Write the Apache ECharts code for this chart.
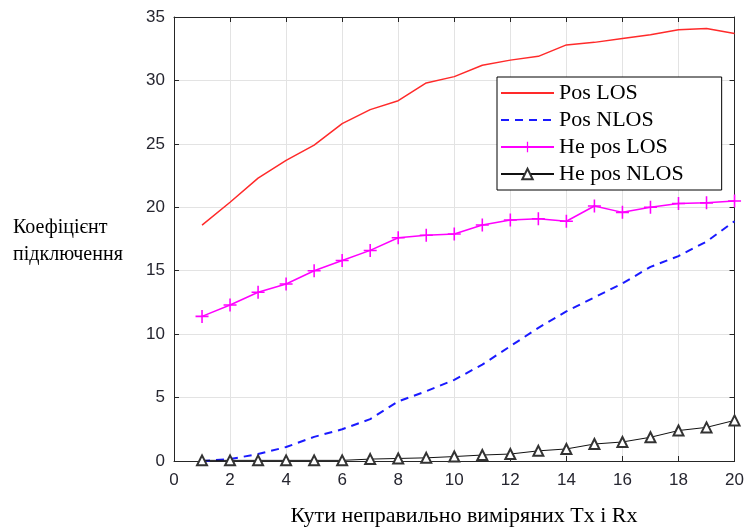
<!DOCTYPE html>
<html>
<head>
<meta charset="utf-8">
<script src="https://cdn.jsdelivr.net/npm/echarts@6/dist/echarts.min.js"></script>
<style>
  html, body { margin: 0; padding: 0; background: #fff; }
  #chart { width: 747px; height: 529px; }
</style>
</head>
<body>
<div id="chart"></div>
<script>
const xValues = [1, 2, 3, 4, 5, 6, 7, 8, 9, 10, 11, 12, 13, 14, 15, 16, 17, 18, 19, 20]
const posLos = [18.6, 20.4, 22.3, 23.7, 24.9, 26.6, 27.7, 28.4, 29.8, 30.3, 31.2, 31.6, 31.9, 32.8, 33.0, 33.3, 33.6, 34.0, 34.1, 33.7]
const posNlos = [0.0, 0.15, 0.55, 1.1, 1.9, 2.5, 3.3, 4.7, 5.5, 6.4, 7.6, 9.05, 10.5, 11.8, 12.9, 14.0, 15.3, 16.15, 17.3, 18.9]
const hePosLos = [11.4, 12.3, 13.3, 13.95, 15.0, 15.8, 16.6, 17.6, 17.8, 17.9, 18.6, 19.0, 19.1, 18.9, 20.1, 19.6, 20.0, 20.3, 20.35, 20.5]
const hePosNlos = [0.05, 0.05, 0.05, 0.05, 0.05, 0.05, 0.15, 0.2, 0.25, 0.35, 0.47, 0.55, 0.8, 0.95, 1.34, 1.5, 1.87, 2.4, 2.65, 3.2]
const seriesNames = ['Pos LOS', 'Pos NLOS', 'He pos LOS', 'He pos NLOS']
const yAxisTitle = 'Коефіцієнт\nпідключення'
const xAxisTitle = 'Кути неправильно виміряних Tx і Rx'

const pair = (ys) => xValues.map((x, i) => [x, ys[i]])
const plusPath = 'path://M4.4,0H5.6V4.4H10V5.6H5.6V10H4.4V5.6H0V4.4H4.4Z'

const chart = echarts.init(document.getElementById('chart'))

const axisText = { color: '#262630', fontFamily: 'Liberation Sans', fontSize: 17 }
const frame = { show: true, onZero: false, lineStyle: { color: '#262626', width: 1 } }
const ticks = { show: true, inside: true, length: 5, lineStyle: { color: '#262626' } }

chart.setOption({
  animation: false,
  grid: { left: 174, right: 10, top: 17, bottom: 68 },
  graphic: [
    {
      type: 'text',
      left: 13,
      top: 214,
      style: {
        text: yAxisTitle,
        font: '20px "Liberation Serif"',
        fill: '#000',
        lineHeight: 27
      }
    },
    {
      type: 'text',
      x: 464,
      y: 516,
      style: {
        text: xAxisTitle,
        font: '22px "Liberation Serif"',
        fill: '#000',
        align: 'center',
        verticalAlign: 'middle'
      }
    }
  ],
  legend: {
    data: [
      { name: seriesNames[0], itemStyle: { opacity: 0 } },
      { name: seriesNames[1], itemStyle: { opacity: 0 } },
      { name: seriesNames[2] },
      { name: seriesNames[3] }
    ],
    orient: 'vertical',
    left: 497,
    top: 77,
    itemWidth: 53,
    itemHeight: 13,
    itemGap: 1,
    padding: [3, 38, 3, 3],
    backgroundColor: '#fff',
    borderColor: '#000',
    borderWidth: 1,
    textStyle: { fontFamily: 'Liberation Serif', fontSize: 22, lineHeight: 26, color: '#000' }
  },
  xAxis: [
    {
      type: 'value',
      min: 0,
      max: 20,
      interval: 2,
      axisLine: frame,
      axisTick: ticks,
      axisLabel: { ...axisText, margin: 11 },
      splitLine: { show: true, lineStyle: { color: '#e3e3e3', width: 1 } }
    },
    {
      type: 'value',
      position: 'top',
      min: 0,
      max: 20,
      interval: 2,
      axisLine: frame,
      axisTick: ticks,
      axisLabel: { show: false },
      splitLine: { show: false }
    }
  ],
  yAxis: [
    {
      type: 'value',
      min: 0,
      max: 35,
      interval: 5,
      axisLine: frame,
      axisTick: ticks,
      axisLabel: { ...axisText, margin: 9 },
      splitLine: { show: true, lineStyle: { color: '#e3e3e3', width: 1 } }
    },
    {
      type: 'value',
      position: 'right',
      min: 0,
      max: 35,
      interval: 5,
      axisLine: frame,
      axisTick: ticks,
      axisLabel: { show: false },
      splitLine: { show: false }
    }
  ],
  series: [
    {
      name: seriesNames[0],
      type: 'line',
      data: pair(posLos),
      symbol: 'none',
      lineStyle: { color: '#ff2a2a', width: 1.5 },
      itemStyle: { color: '#ff2a2a' }
    },
    {
      name: seriesNames[1],
      type: 'line',
      data: pair(posNlos),
      symbol: 'none',
      lineStyle: { color: '#1a1aff', width: 2, type: [8, 6] },
      itemStyle: { color: '#1a1aff' }
    },
    {
      name: seriesNames[2],
      type: 'line',
      data: pair(hePosLos),
      symbol: plusPath,
      symbolSize: 13,
      lineStyle: { color: '#ff00ff', width: 1.5 },
      itemStyle: { color: '#ff00ff' }
    },
    {
      name: seriesNames[3],
      type: 'line',
      data: pair(hePosNlos),
      symbol: 'emptyTriangle',
      symbolSize: 10,
      lineStyle: { color: '#111', width: 1 },
      itemStyle: { color: '#333', borderWidth: 1.2 }
    }
  ]
})
</script>
</body>
</html>
